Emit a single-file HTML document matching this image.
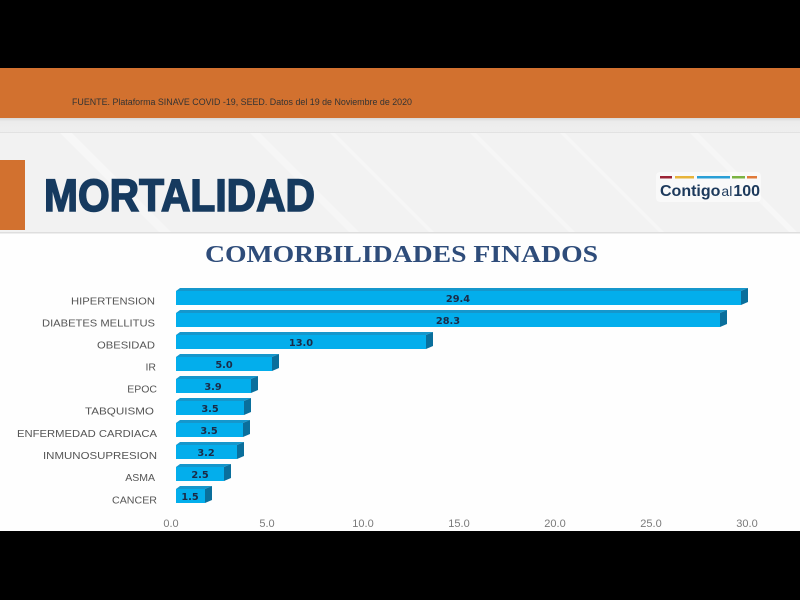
<!DOCTYPE html>
<html><head><meta charset="utf-8"><style>
html,body{margin:0;padding:0;background:#000;}
svg{display:block;}
</style></head><body>
<svg width="800" height="600" viewBox="0 0 800 600" xmlns="http://www.w3.org/2000/svg">
<defs>
<linearGradient id="strip" x1="0" y1="0" x2="0" y2="1">
<stop offset="0" stop-color="#d9d9d9"/><stop offset="0.25" stop-color="#ececec"/><stop offset="1" stop-color="#efefef"/>
</linearGradient>
</defs>
<rect x="0" y="0" width="800" height="600" fill="#000"/>
<!-- orange band -->
<rect x="0" y="68" width="800" height="50" fill="#d2712f"/>
<text x="72" y="105" font-family="Liberation Sans, sans-serif" font-size="9.6" fill="#333" textLength="340" lengthAdjust="spacingAndGlyphs">FUENTE. Plataforma SINAVE COVID -19, SEED. Datos del 19 de Noviembre de 2020</text>
<!-- gray strip -->
<rect x="0" y="118" width="800" height="15" fill="url(#strip)"/>
<rect x="0" y="132" width="800" height="1" fill="#e2e2e2"/>
<!-- title area -->
<rect x="0" y="133" width="800" height="100" fill="#f2f2f2"/>
<g fill="#fafafa" opacity="0.6">
<polygon points="60,133 72,133 172,233 160,233"/>
<polygon points="250,133 260,133 360,233 350,233"/>
<polygon points="330,133 335,133 435,233 430,233"/>
<polygon points="470,133 476,133 576,233 570,233"/>
<polygon points="560,133 565,133 665,233 660,233"/>
<polygon points="690,133 698,133 798,233 790,233"/>
</g>
<rect x="0" y="160" width="25" height="70" fill="#d2712f"/>
<text x="44" y="211" font-family="Liberation Sans, sans-serif" font-weight="bold" font-size="45" fill="#163a5f" stroke="#163a5f" stroke-width="1.6" textLength="271" lengthAdjust="spacingAndGlyphs">MORTALIDAD</text>
<!-- logo -->
<rect x="656" y="172" width="105" height="30" rx="4" fill="#ffffff" opacity="0.5"/>
<rect x="660" y="176" width="12" height="2.5" fill="#9b2335"/>
<rect x="675" y="176" width="19" height="2.5" fill="#e7b43a"/>
<rect x="697" y="176" width="33" height="2.5" fill="#2a9fd6"/>
<rect x="732" y="176" width="13" height="2.5" fill="#7bb342"/>
<rect x="747" y="176" width="10" height="2.5" fill="#e07a3a"/>
<text x="660" y="196" font-family="Liberation Sans, sans-serif" font-size="16" fill="#1d3a5c"><tspan font-weight="bold">Contigo</tspan><tspan font-size="14" dx="1">al</tspan><tspan font-weight="bold" dx="1">100</tspan></text>
<rect x="0" y="232" width="800" height="1.5" fill="#dedede"/>
<!-- chart area -->
<rect x="0" y="233.5" width="800" height="297.5" fill="#fefefe"/>
<text x="205" y="262" font-family="Liberation Serif, serif" font-weight="bold" font-size="24" fill="#2e4c7a" textLength="393" lengthAdjust="spacingAndGlyphs">COMORBILIDADES FINADOS</text>

<g font-family="Liberation Sans, sans-serif" font-size="10.5" fill="#555" text-anchor="end">
<text x="155" y="304.5" textLength="84" lengthAdjust="spacingAndGlyphs">HIPERTENSION</text>
<text x="155" y="326.5" textLength="113" lengthAdjust="spacingAndGlyphs">DIABETES MELLITUS</text>
<text x="155" y="348.5" textLength="58" lengthAdjust="spacingAndGlyphs">OBESIDAD</text>
<text x="156" y="370.5">IR</text>
<text x="157" y="392.5">EPOC</text>
<text x="154" y="414.5" textLength="69" lengthAdjust="spacingAndGlyphs">TABQUISMO</text>
<text x="157" y="437" textLength="140" lengthAdjust="spacingAndGlyphs">ENFERMEDAD CARDIACA</text>
<text x="157" y="459" textLength="114" lengthAdjust="spacingAndGlyphs">INMUNOSUPRESION</text>
<text x="155" y="481">ASMA</text>
<text x="157" y="503.5" textLength="45" lengthAdjust="spacingAndGlyphs">CANCER</text>
</g>

<g id="bars">
<g>
<polygon points="176,291 741,291 748,288 180,288" fill="#1597cc"/>
<polygon points="741,291 748,288 748,302 741,305" fill="#0a6f9c"/>
<rect x="176" y="291" width="565" height="14" fill="#03aeec"/>
</g>
<g transform="translate(0,22)">
<polygon points="176,291 720,291 727,288 180,288" fill="#1597cc"/>
<polygon points="720,291 727,288 727,302 720,305" fill="#0a6f9c"/>
<rect x="176" y="291" width="544" height="14" fill="#03aeec"/>
</g>
<g transform="translate(0,44)">
<polygon points="176,291 426,291 433,288 180,288" fill="#1597cc"/>
<polygon points="426,291 433,288 433,302 426,305" fill="#0a6f9c"/>
<rect x="176" y="291" width="250" height="14" fill="#03aeec"/>
</g>
<g transform="translate(0,66)">
<polygon points="176,291 272,291 279,288 180,288" fill="#1597cc"/>
<polygon points="272,291 279,288 279,302 272,305" fill="#0a6f9c"/>
<rect x="176" y="291" width="96" height="14" fill="#03aeec"/>
</g>
<g transform="translate(0,88)">
<polygon points="176,291 251,291 258,288 180,288" fill="#1597cc"/>
<polygon points="251,291 258,288 258,302 251,305" fill="#0a6f9c"/>
<rect x="176" y="291" width="75" height="14" fill="#03aeec"/>
</g>
<g transform="translate(0,110)">
<polygon points="176,291 244,291 251,288 180,288" fill="#1597cc"/>
<polygon points="244,291 251,288 251,302 244,305" fill="#0a6f9c"/>
<rect x="176" y="291" width="68" height="14" fill="#03aeec"/>
</g>
<g transform="translate(0,132)">
<polygon points="176,291 243,291 250,288 180,288" fill="#1597cc"/>
<polygon points="243,291 250,288 250,302 243,305" fill="#0a6f9c"/>
<rect x="176" y="291" width="67" height="14" fill="#03aeec"/>
</g>
<g transform="translate(0,154)">
<polygon points="176,291 237,291 244,288 180,288" fill="#1597cc"/>
<polygon points="237,291 244,288 244,302 237,305" fill="#0a6f9c"/>
<rect x="176" y="291" width="61" height="14" fill="#03aeec"/>
</g>
<g transform="translate(0,176)">
<polygon points="176,291 224,291 231,288 180,288" fill="#1597cc"/>
<polygon points="224,291 231,288 231,302 224,305" fill="#0a6f9c"/>
<rect x="176" y="291" width="48" height="14" fill="#03aeec"/>
</g>
<g transform="translate(0,198)">
<polygon points="176,291 205,291 212,288 180,288" fill="#1597cc"/>
<polygon points="205,291 212,288 212,302 205,305" fill="#0a6f9c"/>
<rect x="176" y="291" width="29" height="14" fill="#03aeec"/>
</g>
</g>

<g font-family="DejaVu Sans, sans-serif" font-weight="bold" font-size="9.8" fill="#1b2b47" text-anchor="middle">
<text x="458" y="302">29.4</text>
<text x="448" y="324">28.3</text>
<text x="301" y="346">13.0</text>
<text x="224" y="368">5.0</text>
<text x="213" y="390">3.9</text>
<text x="210" y="412">3.5</text>
<text x="209" y="434">3.5</text>
<text x="206" y="456">3.2</text>
<text x="200" y="478">2.5</text>
<text x="190" y="500">1.5</text>
</g>

<g font-family="Liberation Sans, sans-serif" font-size="11" fill="#7a7a7a" text-anchor="middle">
<text x="171" y="527">0.0</text>
<text x="267" y="527">5.0</text>
<text x="363" y="527">10.0</text>
<text x="459" y="527">15.0</text>
<text x="555" y="527">20.0</text>
<text x="651" y="527">25.0</text>
<text x="747" y="527">30.0</text>
</g>
<rect x="0" y="531" width="800" height="69" fill="#000"/>
</svg>
</body></html>
